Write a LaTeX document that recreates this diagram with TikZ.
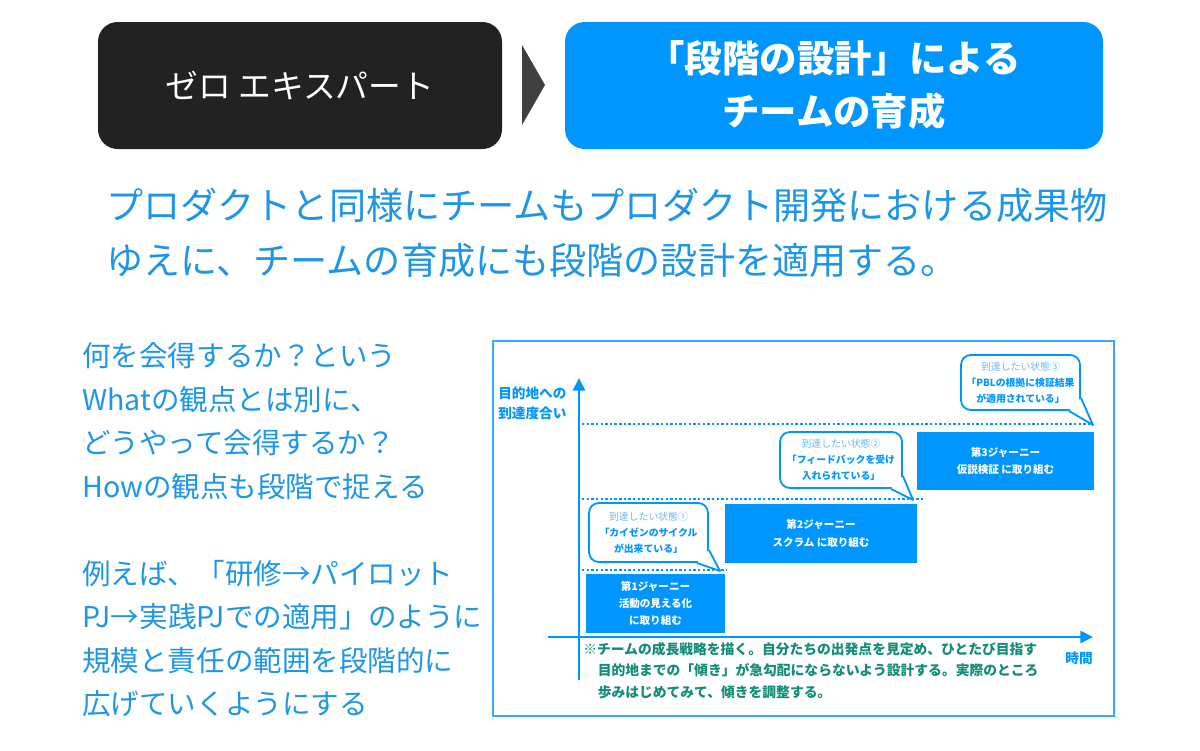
\documentclass[tikz,border=0pt]{standalone}
\usepackage{fontspec}
\newfontfamily\jp{Noto Sans CJK JP}
\usetikzlibrary{arrows.meta}

\definecolor{topblue}{HTML}{0096FF}
\definecolor{darkbox}{HTML}{222222}
\definecolor{arrowgray}{HTML}{404040}
\definecolor{textblue}{HTML}{1E96E8}
\definecolor{chartblue}{HTML}{0096FF}
\definecolor{paleblue}{HTML}{6CB8F0}
\definecolor{framblue}{HTML}{3AA8FF}
\definecolor{noteteal}{HTML}{138C78}

\def\px{0.025cm}
\tikzstyle{every node}=[inner sep=0pt]
\tikzstyle{headbox}=[rounded corners=14pt, text=white, align=center]
\tikzstyle{journey}=[fill=chartblue, text=white, align=center,
	font=\jp\bfseries\fontsize{7.5}{12.2}\selectfont]
\tikzstyle{bubble}=[rounded corners=7pt, draw=chartblue,
	line width=1.3pt, fill=white, align=center, text=chartblue,
	font=\jp\bfseries\fontsize{7}{11.4}\selectfont]
\tikzstyle{level}=[chartblue, line width=1.7pt, dash pattern=on 1.7pt off 1.6pt]
\tikzstyle{axis}=[chartblue, line width=2.1pt, -{Triangle[length=9pt,width=8.5pt]}]
\newcommand{\goal}[1]{{\mdseries\color{paleblue}到達したい状態#1}}
% tail of a speech bubble: #1 bubble, #2 tip
\newcommand{\tail}[2]{%
	\fill[white] ([xshift=-12*\px]#1.south east) -- (#2)
		-- ([yshift=13*\px]#1.south east) -- cycle;
	\draw[chartblue, line width=1.3pt, line join=round]
		([xshift=-12*\px]#1.south east) -- (#2) -- ([yshift=13*\px]#1.south east);}

\begin{document}
\begin{tikzpicture}[x=0.025cm, y=-0.025cm, font=\jp]
	\useasboundingbox[fill=white] (0,0) rectangle (1200,750);
	%header
	\node[headbox, fill=darkbox, minimum width=404*\px, minimum height=127*\px,
		font=\jp\fontsize{23.3}{30}\selectfont] (zero) at (300,85.5) {ゼロ エキスパート};
	\node[headbox, fill=topblue, minimum width=538*\px, minimum height=127*\px,
		font=\jp\bfseries\fontsize{26.6}{37.7}\selectfont] (stage) at (834,85.5)
		{「段階の設計」による\\チームの育成};
	\fill[arrowgray] (522,45) -- (545,85) -- (522,125) -- cycle;
	%message
	\node[anchor=west, align=left, text=textblue,
		font=\jp\fontsize{26.4}{39}\selectfont] (msg) at (106,233)
		{プロダクトと同様にチームもプロダクト開発における成果物\\
		 ゆえに、チームの育成にも段階の設計を適用する。};
	\node[anchor=west, align=left, text=textblue,
		font=\jp\fontsize{20.3}{30.9}\selectfont] (how) at (82,530)
		{何を会得するか？という\\
		 Whatの観点とは別に、\\
		 どうやって会得するか？\\
		 Howの観点も段階で捉える\\[30.9pt]
		 例えば、「研修→パイロット\\
		 PJ→実践PJでの適用」のように\\
		 規模と責任の範囲を段階的に\\
		 広げていくようにする};
	%chart frame
	\draw[framblue, line width=1pt] (493,341) rectangle (1114,716);
	%axis
	\draw[axis] (579,680) -- (579,378);
	\draw[axis] (548,637) -- (1093,637);
	\node[anchor=west, align=left, text=chartblue,
		font=\jp\bfseries\fontsize{9.7}{14.2}\selectfont] (ylab) at (498,403)
		{目的地への\\到達度合い};
	\node[text=chartblue, font=\jp\bfseries\fontsize{9.7}{14}\selectfont]
		(xlab) at (1079,658) {時間};
	%levels
	\foreach \y/\x in {570/727, 499/925, 424/1092}
	\draw[level] (582,\y) -- (\x,\y);
	%journeys
	\node[journey, minimum width=139*\px, minimum height=59*\px] (j1) at (655.5,603.5)
		{第1ジャーニー\\活動の見える化\\に取り組む};
	\node[journey, minimum width=192*\px, minimum height=59*\px] (j2) at (821,533.5)
		{第2ジャーニー\\スクラム に取り組む};
	\node[journey, minimum width=177*\px, minimum height=58*\px] (j3) at (1005.5,461)
		{第3ジャーニー\\仮説検証 に取り組む};
	%goals
	\coordinate (tip1) at (720,571);
	\coordinate (tip2) at (913,500);
	\coordinate (tip3) at (1093,425);
	\node[bubble, minimum width=119*\px, minimum height=59*\px] (g1) at (648.5,532.5)
		{\goal{①}\\「カイゼンのサイクル\\が出来ている」};
	\node[bubble, minimum width=122*\px, minimum height=56*\px] (g2) at (841,460)
		{\goal{②}\\「フィードバックを受け\\入れられている」};
	\node[bubble, minimum width=119*\px, minimum height=55*\px] (g3) at (1020.5,382.5)
		{\goal{③}\\「PBLの根拠に検証結果\\が適用されている」};
	\tail{g1}{tip1}
	\tail{g2}{tip2}
	\tail{g3}{tip3}
	%note
	\node[anchor=north west, align=left, text=noteteal,
		font=\jp\bfseries\fontsize{9.8}{15.3}\selectfont] (note) at (583,642)
		{※チームの成長戦略を描く。自分たちの出発点を見定め、ひとたび目指す\\
		 \hspace*{1.05em}目的地までの「傾き」が急勾配にならないよう設計する。実際のところ\\
		 \hspace*{1.05em}歩みはじめてみて、傾きを調整する。};
\end{tikzpicture}
\end{document}
